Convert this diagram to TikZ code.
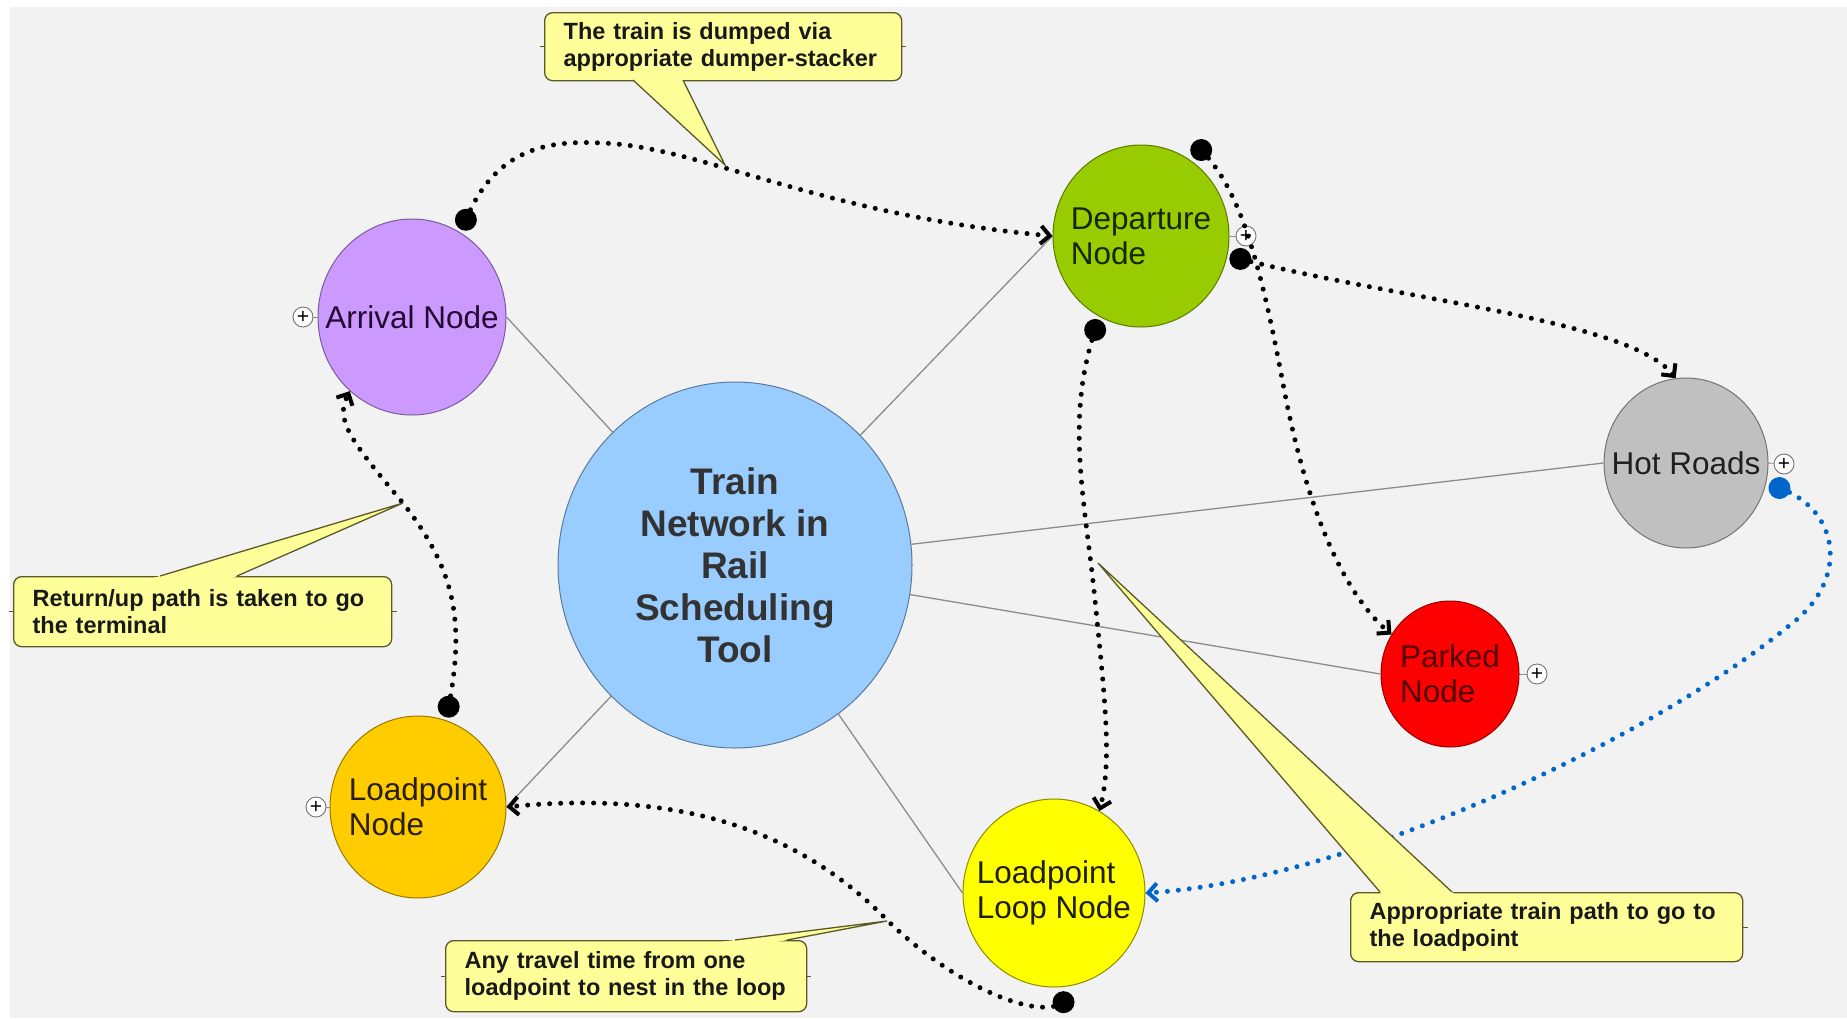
\documentclass[tikz,border=0pt]{standalone}
\usepackage{fontspec}
\setmainfont{Liberation Sans}
\usetikzlibrary{shapes.geometric,arrows.meta,calc}
\definecolor{bg}{RGB}{242,242,242}
\definecolor{cblue}{RGB}{153,204,255}
\definecolor{carr}{RGB}{204,153,255}
\definecolor{cdep}{RGB}{153,204,0}
\definecolor{chot}{RGB}{192,192,192}
\definecolor{cpark}{RGB}{255,0,0}
\definecolor{clp}{RGB}{255,204,0}
\definecolor{cloop}{RGB}{255,255,0}
\definecolor{cofill}{RGB}{255,255,153}
\definecolor{cobord}{RGB}{90,90,40}
\definecolor{dblue}{RGB}{0,102,204}
\definecolor{ctxt}{RGB}{51,51,51}
\begin{document}
\begin{tikzpicture}[x=1pt,y=-1pt,
  bub/.style={ellipse, inner sep=0pt, line width=1pt},
  ntext/.style={font=\fontsize{31.5}{35}\selectfont, align=left, text=black!88},
  ctext/.style={font=\bfseries\fontsize{37}{42}\selectfont, align=center, text=ctxt},
  gline/.style={draw=black!45, line width=1.3pt},
  pl/.style={circle, draw=black!55, fill=white, minimum size=20pt, inner sep=0pt, line width=0.9pt, font=\fontsize{21}{21}\selectfont},
  co/.style={draw=cobord, fill=cofill, rounded corners=8pt, line width=1.3pt,
    font=\bfseries\fontsize{23.5}{27}\selectfont, text=black!90, align=left,
    inner xsep=19pt, inner ysep=0pt, anchor=north west},
  coline/.style={draw=cobord, line width=1.3pt, line join=miter},
  dotl/.style={line width=5pt, line cap=round, dash pattern=on 0pt off 11pt,
    -{Straight Barb[length=9pt,width=18pt,line width=4pt]}},
  sdot/.style={fill=black}
]
\useasboundingbox (0,0) rectangle (1847,1018);
\fill[white] (0,0) rectangle (1847,1018);
\fill[bg] (10,7) rectangle (1847,1018);

% nodes
\node[bub, fill=cblue, draw=cblue!60!black, minimum width=354pt, minimum height=366pt,
  label={[ctext]center:Train\\Network in\\Rail\\Scheduling\\Tool}] (ctr) at (735,565) {};
\node[bub, fill=carr, draw=carr!60!black, minimum width=188pt, minimum height=196pt,
  label={[ntext, text={rgb,255:red,35;green,10;blue,50}]center:Arrival Node}] (arr) at (412,317) {};
\node[bub, fill=cdep, draw=cdep!60!black, minimum width=176pt, minimum height=182pt,
  label={[ntext, text={rgb,255:red,20;green,40;blue,0}]center:Departure\\Node}] (dep) at (1141,236) {};
\node[bub, fill=chot, draw=chot!60!black, minimum width=164pt, minimum height=170pt,
  label={[ntext]center:Hot Roads}] (hot) at (1686,463) {};
\node[bub, fill=cpark, draw=cpark!60!black, minimum width=138pt, minimum height=146pt,
  label={[ntext, text={rgb,255:red,80;green,0;blue,0}]center:Parked\\Node}] (park) at (1450,674) {};
\node[bub, fill=clp, draw=clp!60!black, minimum width=176pt, minimum height=182pt,
  label={[ntext, text={rgb,255:red,40;green,30;blue,0}]center:Loadpoint\\Node}] (lp) at (418,807) {};
\node[bub, fill=cloop, draw=cloop!55!black, minimum width=182pt, minimum height=188pt,
  label={[ntext, text={rgb,255:red,30;green,30;blue,0}]center:Loadpoint\\Loop Node}] (loop) at (1054,893) {};

% mind-map lines
\draw[gline] (ctr) -- (arr.east);
\draw[gline] (ctr) -- (dep.west);
\draw[gline] (ctr) -- (hot.west);
\draw[gline] (ctr) -- (park.west);
\draw[gline] (ctr) -- (loop.west);
\draw[gline] (ctr) -- (lp.east);

% plus buttons
\node[pl] (parr) at (303,317) {+};
\node[pl] (pdep) at (1246,236) {+};
\node[pl] (phot) at (1784,464) {+};
\node[pl] (ppark) at (1537,674) {+};
\node[pl] (plp) at (316,807) {+};
\draw[gline, line width=0.9pt] (parr) -- (arr.west);
\draw[gline, line width=0.9pt] (pdep) -- (dep.east);
\draw[gline, line width=0.9pt] (phot) -- (hot.east);
\draw[gline, line width=0.9pt] (ppark) -- (park.east);
\draw[gline, line width=0.9pt] (plp) -- (lp.west);

% start points of dotted paths
\coordinate (s1) at ($(arr.center)!1.14!(arr.61)$);
\coordinate (s2) at ($(lp.center)!1.15!(lp.73)$);
\coordinate (s3) at ($(loop.center)!1.16!(loop.-85)$);
\coordinate (s4) at ($(dep.center)!1.15!(dep.-116)$);
\coordinate (s5) at ($(dep.center)!1.16!(dep.55)$);
\coordinate (s6) at ($(dep.center)!1.15!(dep.-13)$);
\coordinate (s7) at ($(hot.center)!1.17!(hot.-15)$);

% dotted connectors
\draw[dotl] (s1) .. controls (495,150) and (545,140) .. (601,143) .. controls (700,146) and (820,215) .. (dep.west);
\draw[dotl] (s2) .. controls (465,620) and (455,570) .. (403,503) .. controls (350,440) and (335,420) .. (arr.-130);
\draw[dotl] (s3) .. controls (1040,1020) and (960,990) .. (889,922) .. controls (800,830) and (680,790) .. (lp.east);
\draw[dotl] (s4) .. controls (1065,420) and (1085,500) .. (1095,600) .. controls (1105,700) and (1112,760) .. (loop.61);
\draw[dotl] (s5) .. controls (1240,190) and (1260,260) .. (1284,389) .. controls (1305,500) and (1340,590) .. (park.146);
\draw[dotl] (s6) .. controls (1400,300) and (1630,320) .. (hot.97);
\draw[dotl, draw=dblue] (s7) .. controls (1840,510) and (1850,580) .. (1790,625) .. controls (1650,740) and (1350,880) .. (loop.east);

\foreach \s in {s1,s2,s3,s4,s5,s6} \fill[sdot] (\s) circle[radius=11pt];
\fill[dblue] (s7) circle[radius=11pt];

% callouts
\node[co, text width=319pt, minimum height=68pt] (c1) at (544,12) {The train is dumped via\\appropriate dumper-stacker};
\node[co, text width=340pt, minimum height=70pt] (c2) at (13,576) {Return/up path is taken to go\\the terminal};
\node[co, text width=323pt, minimum height=71pt] (c3) at (445,940) {Any travel time from one\\loadpoint to nest in the loop};
\node[co, text width=354pt, minimum height=69pt] (c4) at (1350,892) {Appropriate train path to go to\\the loadpoint};

% callout tails
\coordinate (t1) at (725,165);
\coordinate (t2) at (403,503);
\coordinate (t3) at (887,921);
\coordinate (t4) at (1098,563);

\fill[cofill] ($(633,80)!-0.04!(t1)$) -- (t1) -- ($(683,80)!-0.04!(t1)$) -- cycle;
\draw[coline] (633,80) -- (t1) -- (683,80);
\fill[cofill] ($(160,576)!-0.04!(t2)$) -- (t2) -- ($(237,576)!-0.04!(t2)$) -- cycle;
\draw[coline] (160,576) -- (t2) -- (237,576);
\fill[cofill] ($(735,940)!-0.1!(t3)$) -- (t3) -- ($(787,940)!-0.1!(t3)$) -- cycle;
\draw[coline] (735,940) -- (t3) -- (787,940);
\fill[cofill] ($(1380,892)!-0.02!(t4)$) -- (t4) -- ($(1452,892)!-0.02!(t4)$) -- cycle;
\draw[coline] (1380,892) -- (t4) -- (1452,892);

% small side ticks on callouts
\draw[coline, line width=1pt] (c1.west) -- ++(-4,0);
\draw[coline, line width=1pt] (c1.east) -- ++(4,0);
\draw[coline, line width=1pt] (c2.west) -- ++(-4,0);
\draw[coline, line width=1pt] (c2.east) -- ++(5,0);
\draw[coline, line width=1pt] (c3.west) -- ++(-4,0);
\draw[coline, line width=1pt] (c3.east) -- ++(4,0);
\draw[coline, line width=1pt] (c4.east) -- ++(5,0);
\end{tikzpicture}
\end{document}
